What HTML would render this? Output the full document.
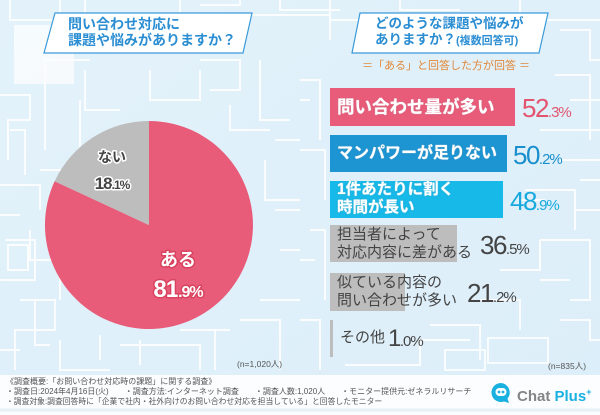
<!DOCTYPE html>
<html><head><meta charset="utf-8"><style>
*{margin:0;padding:0;box-sizing:border-box}
body{width:600px;height:415px;overflow:hidden;position:relative;background:#e1f0f9;font-family:"Liberation Sans","Noto Sans CJK JP",sans-serif}
.a{position:absolute;white-space:nowrap}
.t{color:#2b8ed3;font-weight:bold;font-size:14px;line-height:16px}
.bar{position:absolute;left:330px}
.bt{position:absolute;left:337px;white-space:nowrap;font-weight:bold}
.w{color:#fff;text-shadow:0 0 1px #fff,0 0 2px rgba(0,0,0,.15)}
.d{color:#444;font-weight:normal}
.v{position:absolute;white-space:nowrap;font-size:26px;letter-spacing:-1.5px;line-height:26px}
.v small{font-size:15px;letter-spacing:-1px}
.f{font-size:8px;color:#555;line-height:10px}
</style></head><body>
<svg class="a" style="left:0;top:0" width="600" height="415">
<defs><linearGradient id="g" x1="0" y1="0" x2="1" y2="1"><stop offset="0" stop-color="#e3f2fa"/><stop offset="1" stop-color="#dceef9"/></linearGradient></defs>
<rect width="600" height="415" fill="url(#g)"/>
<g fill="none" stroke="#fff" stroke-width="2" opacity=".85">
<rect x="15" y="26" width="58" height="57" fill="#fff" opacity=".8"/>
<path d="M10 0V20H60V0M85 0V15H180V0M200 5H240V0M250 15H330V40M280 0V10H340M0 95H30V120H8V160M0 185H40V210M5 240H35V280H0M20 300H55V330H15V370M0 350H20"/>
<path d="M90 60H45V150M80 100V170H40M30 230V260H60V300M60 340V370H110M120 345H200V370M215 330V370M240 320H280V370M260 300H300M280 250H300"/>
<path d="M85 70V110H120M150 70V100H200V70M200 60H240V90H210M260 60V120H290M230 105V130H270M275 140H300M265 160V200H300M275 210H300M250 220V250"/>
<path d="M330 0V20H370M400 0V10H460M520 0V20H600M560 30H590V60H600M555 75H590V140M570 100H600M560 160H600M525 190H575V230M540 240H590V300H570M560 320H590V340H600M540 280H570"/>
<path d="M300 80H320V140M300 150H325V200M310 230H325V300M300 320H320V370M345 365H420V340H470M430 325H480V360M480 300H520V330M500 270H540V240M520 200H545"/>
<path d="M10 130H25V175M0 215H20M35 300V345H50M100 335V360M140 340V365M180 330H230M300 100H310M300 260H315M540 130H600M580 180H600M575 210H600"/>
<rect x="488" y="338" width="60" height="25"/><rect x="445" y="350" width="40" height="20"/><rect x="8" y="245" width="20" height="25"/>
</g>
<rect y="375" width="600" height="40" fill="#fbfdfe"/>
<path d="M0 410H600" stroke="#e6f1f8" stroke-width="3"/>
</svg>

<svg class="a" style="left:0;top:0" width="600" height="80">
<polygon points="55,13 252,13 243,53 44,53" fill="#fff" stroke="#3a9ad9" stroke-width="1.2"/>
<polygon points="360,13 548,13 539,53 352,53" fill="#fff" stroke="#3a9ad9" stroke-width="1.2"/>
</svg>
<div class="a t" style="left:68px;top:16px">問い合わせ対応に</div>
<div class="a t" style="left:68px;top:32px">課題や悩みがありますか？</div>
<div class="a t" style="left:375px;top:16px;font-size:13.5px">どのような課題や悩みが</div>
<div class="a t" style="left:375px;top:32px;font-size:13.5px">ありますか？<span style="font-size:11px">(複数回答可)</span></div>
<div class="a" style="left:362px;top:60px;font-size:11px;color:#e0883a;line-height:13px">＝「ある」と回答した方が回答 ＝</div>

<svg class="a" style="left:0;top:0" width="300" height="360">
<path d="M149,225 L149,121 A104,104 0 1 1 54.6,181.3 Z" fill="#e85c7a"/>
<path d="M149,225 L54.6,181.3 A104,104 0 0 1 149,121 Z" fill="#bdbdbd"/>
<g font-family="Liberation Sans,Noto Sans CJK JP,sans-serif" font-weight="bold" paint-order="stroke" stroke-linejoin="round">
<text x="112" y="162" font-size="14" fill="#444" stroke="#fff" stroke-width="3" text-anchor="middle">ない</text>
<text x="112" y="189" font-size="17" fill="#444" stroke="#fff" stroke-width="3" text-anchor="middle" letter-spacing="-1">18<tspan font-size="12">.1%</tspan></text>
<text x="178" y="266" font-size="18" fill="#fff" stroke="#d9435f" stroke-width="3" text-anchor="middle">ある</text>
<text x="178" y="297" font-size="24" fill="#fff" stroke="#d9435f" stroke-width="3" text-anchor="middle" letter-spacing="-1">81<tspan font-size="16">.9%</tspan></text>
</g>
</svg>
<div class="a f" style="left:237px;top:359px;font-size:8.5px">(n=1,020人)</div>

<div class="bar" style="top:88px;width:185px;height:38px;background:#e85c7a"></div>
<div class="bt w" style="top:97px;font-size:17.5px;line-height:20px">問い合わせ量が多い</div>
<div class="v" style="left:522px;top:95px;color:#e3546f">52<small>.3%</small></div>

<div class="bar" style="top:135px;width:177px;height:37px;background:#1d95d3"></div>
<div class="bt w" style="top:144px;font-size:16px;line-height:19px">マンパワーが足りない</div>
<div class="v" style="left:513px;top:142px;color:#1a8fcd">50<small>.2%</small></div>

<div class="bar" style="top:181px;width:173px;height:37px;background:#17b9e8"></div>
<div class="bt w" style="top:181px;font-size:15.5px;line-height:18px">1件あたりに割く<br>時間が長い</div>
<div class="v" style="left:510px;top:188px;color:#17a9dd">48<small>.9%</small></div>

<div class="bar" style="top:225px;width:127px;height:37px;background:#bdbdbd"></div>
<div class="bt d" style="top:226px;font-size:15px;line-height:18px">担当者によって<br>対応内容に差がある</div>
<div class="v" style="left:480px;top:232px;color:#444">36<small>.5%</small></div>

<div class="bar" style="top:273px;width:75px;height:38px;background:#bdbdbd"></div>
<div class="bt d" style="top:274px;font-size:15px;line-height:18px">似ている内容の<br>問い合わせが多い</div>
<div class="v" style="left:467px;top:280px;color:#444">21<small>.2%</small></div>

<div class="bar" style="top:320px;width:3px;height:37px;background:#bdbdbd"></div>
<div class="bt d" style="top:329px;left:340px;font-size:15px;line-height:18px">その他</div>
<div class="v" style="left:388px;top:326px;color:#444;font-size:24px">1<small>.0%</small></div>
<div class="a f" style="left:548px;top:361px;font-size:8.5px">(n=835人)</div>

<div class="a f" style="left:6px;top:377px">《調査概要:「お問い合わせ対応時の課題」に関する調査》<br>・調査日:2024年4月16日(火)　　・調査方法:インターネット調査　　・調査人数:1,020人　　・モニター提供元:ゼネラルリサーチ<br><span style="font-size:7.8px">・調査対象:調査回答時に「企業で社内・社外向けのお問い合わせ対応を担当している」と回答したモニター</span></div>

<svg class="a" style="left:490px;top:381px" width="24" height="24">
<path d="M11 2A9.5 9.5 0 1 0 14 20.5L19 22L17.5 17.5A9.5 9.5 0 0 0 11 2Z" fill="#1ab0e0"/>
<rect x="5.5" y="7" width="11" height="8" rx="4" fill="#fff"/>
<circle cx="9" cy="11" r="1.4" fill="#1ab0e0"/><circle cx="13" cy="11" r="1.4" fill="#1ab0e0"/>
</svg>
<div class="a" style="left:517px;top:384px;font-size:15px;font-weight:bold;line-height:17px;color:#858585">Chat <span style="color:#1ab0e0">Plus</span><sup style="color:#1ab0e0;font-size:9px;vertical-align:6px">+</sup></div>
</body></html>
